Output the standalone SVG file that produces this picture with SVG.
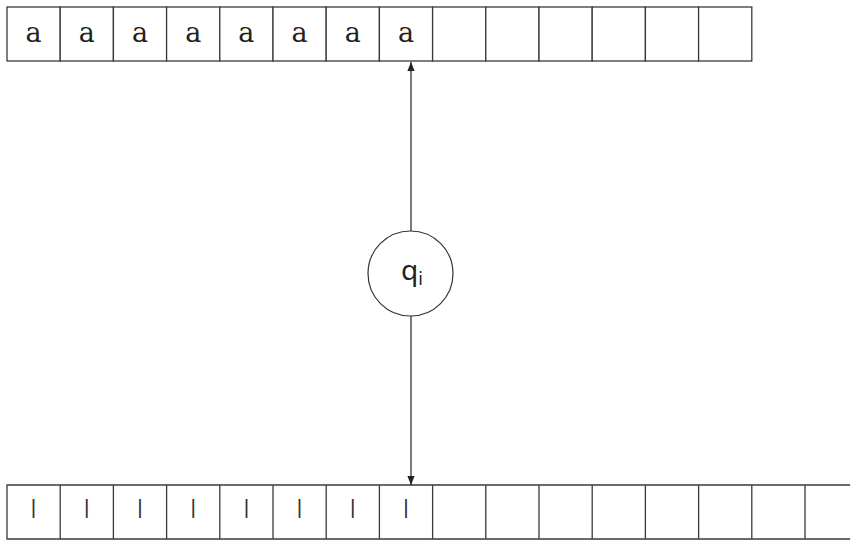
<svg xmlns="http://www.w3.org/2000/svg" width="850" height="540" viewBox="0 0 850 540">
<style>
.cell{fill:#fff;stroke:#3a3a3a;stroke-width:1.3}
.sym{font-family:"DejaVu Serif","Liberation Serif",serif;font-size:27px;fill:#222;text-anchor:middle}
.bar{font-family:"Liberation Sans",sans-serif;font-size:21px;fill:#333;text-anchor:middle}
.edge{stroke:#222;stroke-width:1.2;fill:none}
.state{fill:#fff;stroke:#333;stroke-width:1.2}
.lbl{font-family:"Noto Sans","DejaVu Sans",sans-serif;font-size:28px;fill:#222}
</style>
<defs>
<marker id="ah" viewBox="0 0 10 10" refX="10" refY="5" markerWidth="9" markerHeight="9" markerUnits="userSpaceOnUse" orient="auto">
<path d="M0,1 L10,5 L0,9 z" fill="#222"/>
</marker>
</defs>
<g id="tape1">
<rect class="cell" x="7" y="7" width="53.2" height="54"/>
<rect class="cell" x="60.2" y="7" width="53.2" height="54"/>
<rect class="cell" x="113.4" y="7" width="53.2" height="54"/>
<rect class="cell" x="166.6" y="7" width="53.2" height="54"/>
<rect class="cell" x="219.8" y="7" width="53.2" height="54"/>
<rect class="cell" x="273" y="7" width="53.2" height="54"/>
<rect class="cell" x="326.2" y="7" width="53.2" height="54"/>
<rect class="cell" x="379.4" y="7" width="53.2" height="54"/>
<rect class="cell" x="432.6" y="7" width="53.2" height="54"/>
<rect class="cell" x="485.8" y="7" width="53.2" height="54"/>
<rect class="cell" x="539" y="7" width="53.2" height="54"/>
<rect class="cell" x="592.2" y="7" width="53.2" height="54"/>
<rect class="cell" x="645.4" y="7" width="53.2" height="54"/>
<rect class="cell" x="698.6" y="7" width="53.2" height="54"/>
<text class="sym" x="33.6" y="42">a</text>
<text class="sym" x="86.8" y="42">a</text>
<text class="sym" x="140" y="42">a</text>
<text class="sym" x="193.2" y="42">a</text>
<text class="sym" x="246.4" y="42">a</text>
<text class="sym" x="299.6" y="42">a</text>
<text class="sym" x="352.8" y="42">a</text>
<text class="sym" x="406" y="42">a</text>
</g>
<g id="tape2">
<path class="cell" d="M850,485 H7 V539 H850 M60.2,485 V539 M113.4,485 V539 M166.6,485 V539 M219.8,485 V539 M273,485 V539 M326.2,485 V539 M379.4,485 V539 M432.6,485 V539 M485.8,485 V539 M539,485 V539 M592.2,485 V539 M645.4,485 V539 M698.6,485 V539 M751.8,485 V539 M805,485 V539" fill="none"/>
<text class="bar" x="33.6" y="514">|</text>
<text class="bar" x="86.8" y="514">|</text>
<text class="bar" x="140" y="514">|</text>
<text class="bar" x="193.2" y="514">|</text>
<text class="bar" x="246.4" y="514">|</text>
<text class="bar" x="299.6" y="514">|</text>
<text class="bar" x="352.8" y="514">|</text>
<text class="bar" x="406" y="514">|</text>
</g>
<g id="connectors">
<line class="edge" x1="411" y1="231" x2="411" y2="62" marker-end="url(#ah)"/>
<line class="edge" x1="411" y1="316" x2="411" y2="485" marker-end="url(#ah)"/>
</g>
<g id="state">
<circle class="state" cx="410.5" cy="273.5" r="42.5"/>
<text class="lbl" x="401" y="280">q<tspan font-size="18" dy="5">i</tspan></text>
</g>
</svg>
